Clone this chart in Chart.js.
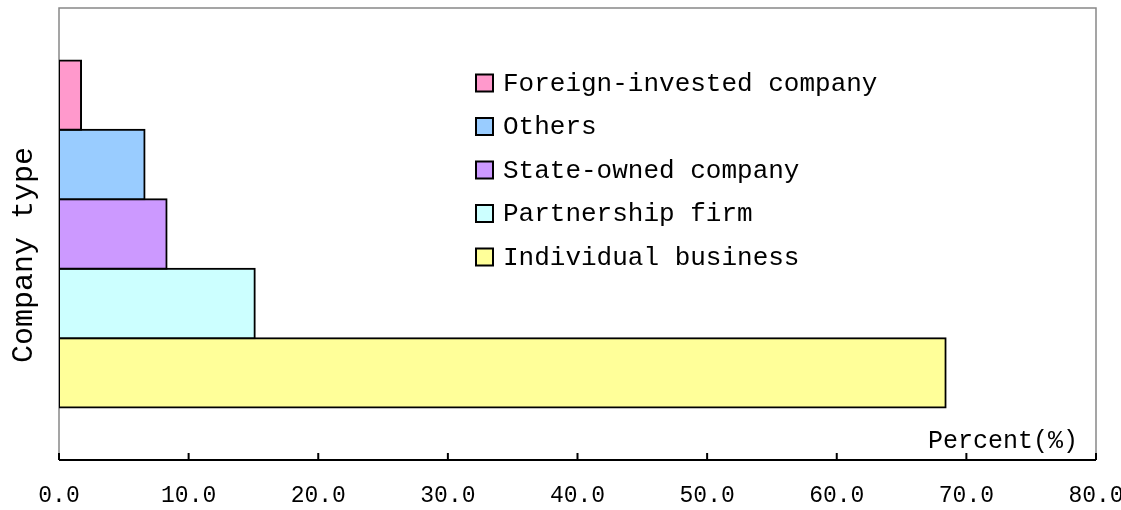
<!DOCTYPE html>
<html>
<head>
<meta charset="utf-8">
<script src="https://cdn.jsdelivr.net/npm/chart.js@4.4.0/dist/chart.umd.min.js"></script>
<style>
  html, body { margin: 0; padding: 0; background: #fff; }
  #wrap { width: 1121px; height: 510px; }
</style>
</head>
<body>
<div id="wrap"><canvas id="chart" width="1121" height="510"></canvas></div>
<script>
// data (top bar first)
const companyTypes = [
  "Foreign-invested company",
  "Others",
  "State-owned company",
  "Partnership firm",
  "Individual business",
];
const percents = [1.7, 6.6, 8.3, 15.1, 68.4];
const barColors = ["#FF99CC", "#99CCFF", "#CC99FF", "#CCFFFF", "#FFFF99"];
const xMin = 0;
const xMax = 80;
const xStep = 10;
const yTitle = "Company type";
const xTitle = "Percent(%)";

const monoFont = "'Liberation Mono', 'DejaVu Sans Mono', monospace";

// frame: gray box + black bottom axis with inward ticks
const framePlugin = {
  id: "frame",
  beforeDatasetsDraw(chart) {
    const { ctx, chartArea: a } = chart;
    const xScale = chart.scales.x;
    ctx.save();
    ctx.strokeStyle = "#888";
    ctx.lineWidth = 1.5;
    ctx.beginPath();
    ctx.moveTo(a.left, a.bottom);
    ctx.lineTo(a.left, a.top);
    ctx.lineTo(a.right, a.top);
    ctx.lineTo(a.right, a.bottom);
    ctx.stroke();

    ctx.strokeStyle = "#000";
    ctx.lineWidth = 2;
    ctx.beginPath();
    ctx.moveTo(a.left, a.bottom);
    ctx.lineTo(a.right, a.bottom);
    xScale.ticks.forEach((t) => {
      const x = xScale.getPixelForValue(t.value);
      ctx.moveTo(x, a.bottom);
      ctx.lineTo(x, a.bottom - 7);
    });
    ctx.stroke();
    ctx.restore();
  },
  afterDraw(chart) {
    const { ctx, chartArea: a } = chart;
    ctx.save();

    // legend inside the plot
    ctx.font = "26px " + monoFont;
    ctx.textBaseline = "middle";
    ctx.textAlign = "left";
    chart.data.datasets.forEach((ds, i) => {
      const y = 83 + i * 43.5;
      ctx.fillStyle = ds.backgroundColor;
      ctx.fillRect(476, y - 8.5, 17, 17);
      ctx.strokeStyle = "#000";
      ctx.lineWidth = 2;
      ctx.strokeRect(476, y - 8.5, 17, 17);
      ctx.fillStyle = "#000";
      ctx.fillText(ds.label, 503, y + 1);
    });

    // x axis title, inside the plot at the bottom right
    ctx.font = "25px " + monoFont;
    ctx.textAlign = "right";
    ctx.fillText(xTitle, a.right - 18, a.bottom - 19);

    // y axis title, rotated
    ctx.font = "30px " + monoFont;
    ctx.translate(24, 255);
    ctx.rotate(-Math.PI / 2);
    ctx.textAlign = "center";
    ctx.fillText(yTitle, 0, 0);
    ctx.restore();
  },
};

const datasets = companyTypes.map((name, i) => ({
  label: name,
  data: [percents[i]],
  backgroundColor: barColors[i],
  borderColor: "#000",
  borderWidth: 2,
  borderSkipped: false,
  inflateAmount: 1,
  categoryPercentage: 0.768,
  barPercentage: 1,
}));

new Chart(document.getElementById("chart").getContext("2d"), {
  type: "bar",
  data: { labels: [yTitle], datasets: datasets },
  options: {
    indexAxis: "y",
    responsive: false,
    animation: false,
    layout: { padding: { left: 59, right: 25, top: 8, bottom: 0 } },
    plugins: { legend: { display: false }, tooltip: { enabled: false } },
    scales: {
      x: {
        min: xMin,
        max: xMax,
        grid: { display: false, drawTicks: false },
        border: { display: false },
        ticks: {
          stepSize: xStep,
          padding: 22,
          color: "#000",
          font: { family: monoFont, size: 23 },
          maxRotation: 0,
          callback: (v) => v.toFixed(1),
        },
        afterFit: (scale) => {
          scale.paddingLeft = 0;
          scale.paddingRight = 0;
          scale.height = 50;
        },
      },
      y: { display: false },
    },
  },
  plugins: [framePlugin],
});
</script>
</body>
</html>
